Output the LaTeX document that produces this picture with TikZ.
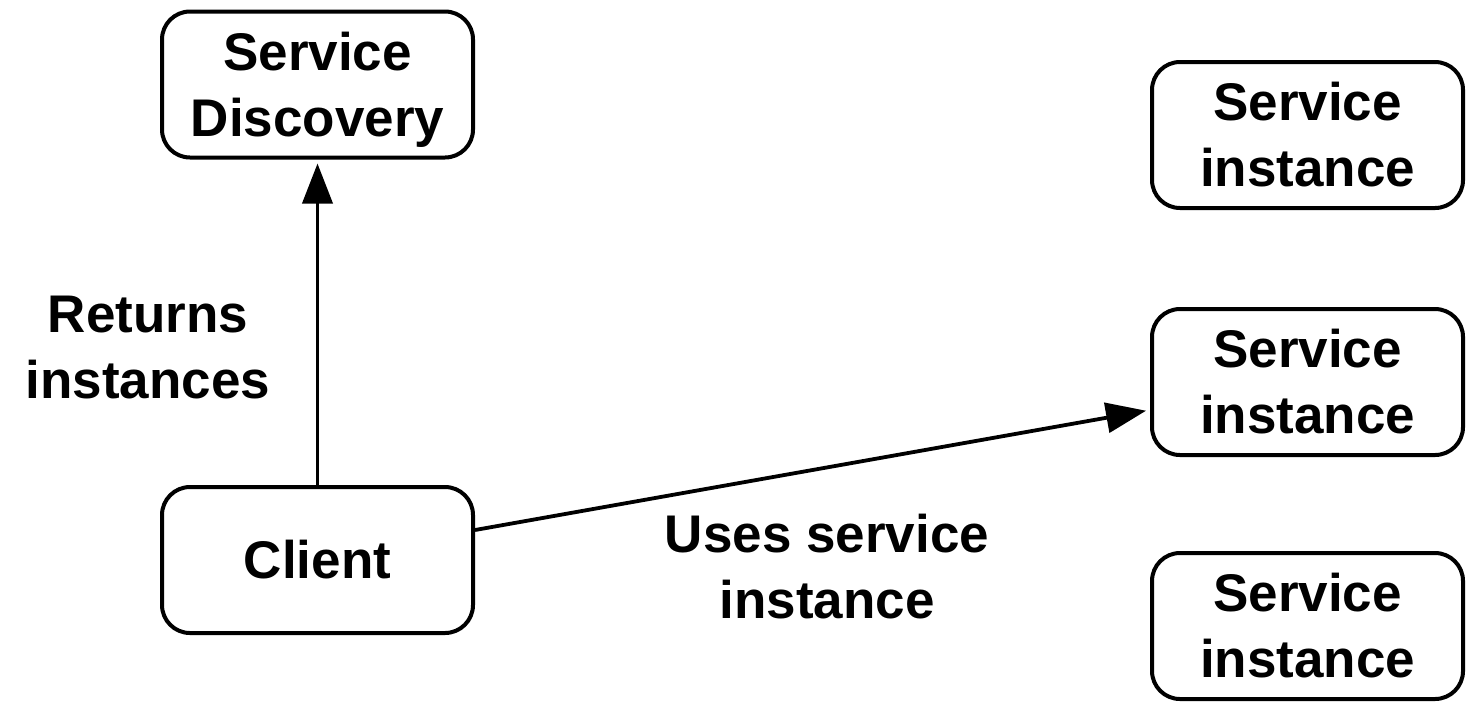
\documentclass[tikz,border=0pt]{standalone}
\usepackage{fontspec}
\setmainfont{Liberation Sans}
\usetikzlibrary{arrows.meta}
\begin{document}
\begin{tikzpicture}[x=0.5pt,y=-0.5pt,
 box/.style={draw, line width=2pt, rounded corners=14pt, minimum width=155.5pt, minimum height=73pt, align=center, inner sep=0pt, font=\fontsize{26.5}{33}\selectfont\bfseries},
 lbl/.style={align=center, inner sep=0pt, font=\fontsize{26.5}{33}\selectfont\bfseries},
 arr/.style={line width=1.9pt, -{Triangle[length=20pt,width=15pt]}}]
\useasboundingbox (0,0) rectangle (1470,708);
\node[box] (sd) at (317.5,84.5) {Service\\\smash{Discovery}};
\node[box] (cl) at (317.5,560) {Client};
\node[box] (s1) at (1307.5,135) {Service\\instance};
\node[box] (s2) at (1307.5,382) {Service\\instance};
\node[box] (s3) at (1307.5,626) {Service\\instance};
\node[lbl] (l1) at (148,348) {Returns\\instances};
\node[lbl] (l2) at (827,567) {Uses service\\instance};
\draw[arr, shorten >=2pt] (cl.north) -- (sd.south);
\draw[arr, shorten >=2pt] ([yshift=15pt]cl.east) -- ([yshift=-14pt]s2.west);
\end{tikzpicture}
\end{document}
